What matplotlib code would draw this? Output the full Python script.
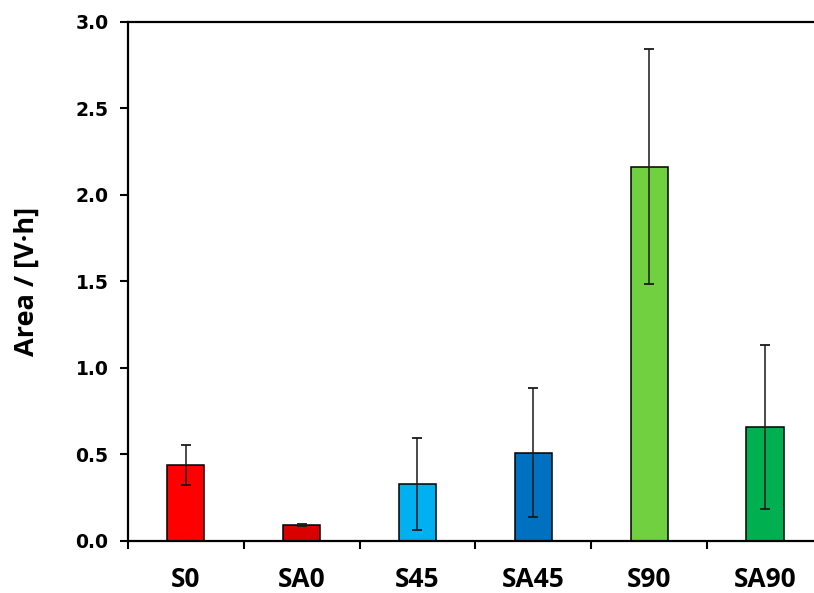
import numpy as np
import matplotlib.pyplot as plt

# Peak areas per sample, with standard deviations
samples = ["S0", "SA0", "S45", "SA45", "S90", "SA90"]
area = [0.44, 0.092, 0.327, 0.509, 2.163, 0.659]
area_sd = [0.115, 0.008, 0.267, 0.374, 0.678, 0.474]
bar_colors = ["#FF0000", "#D90000", "#00B0F0", "#0070C0", "#70D040", "#00B050"]

fig = plt.figure(figsize=(8.14, 5.93), dpi=100)
ax = fig.add_axes([0.157, 0.088, 0.854, 0.875])

x = np.arange(len(samples))
ax.bar(x, area, width=0.32, color=bar_colors, edgecolor="black", linewidth=1.1, zorder=2)
ax.errorbar(x, area, yerr=area_sd, fmt="none", ecolor="#1a1a1a",
            elinewidth=1.1, capsize=3.5, capthick=1.3, zorder=3)

ax.set_xlim(-0.5, len(samples) - 0.5)
ax.set_ylim(0, 3.0)
yt = np.arange(0, 3.01, 0.5)
ax.set_yticks(yt)
ax.set_yticklabels([f"{v:.1f}" for v in yt],
                   fontsize=13.5, fontweight="bold", family="DejaVu Sans")

# category labels sit between the boundary ticks
ax.set_xticks(x)
ax.set_xticklabels(samples, fontsize=19, fontweight="bold", family="Open Sans")
ax.tick_params(axis="x", which="major", length=0, pad=18)
ax.set_xticks(np.arange(-0.5, len(samples), 1.0), minor=True)
ax.tick_params(axis="x", which="minor", length=6, width=1.5, direction="out")
ax.tick_params(axis="y", length=6, width=1.5, direction="out", pad=8)

for side in ["left", "bottom", "top"]:
    ax.spines[side].set_linewidth(1.6)
ax.spines["right"].set_visible(False)

ax.set_ylabel("Area / [V·h]", fontsize=19.5, fontweight="bold", family="Open Sans")
ax.yaxis.set_label_coords(-0.127, 0.5)

fig.savefig("out.png", dpi=100)
